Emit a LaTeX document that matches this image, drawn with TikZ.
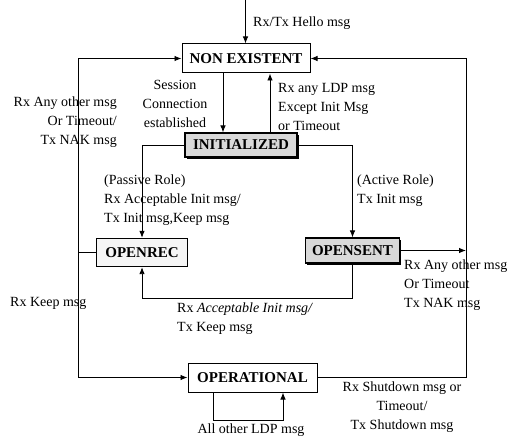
\documentclass[tikz,border=0pt]{standalone}
\usepackage{fontspec}
\setmainfont{Liberation Serif}
\usetikzlibrary{arrows.meta,shadows}
\begin{document}
\begin{tikzpicture}[x=1pt,y=-1pt,
  conn/.style={line width=0.9pt},
  arr/.style={conn,-{Latex[length=7pt,width=5.5pt]}},
  state/.style={draw,line width=1pt,fill=white,inner sep=0pt,
    font=\fontsize{15}{17}\selectfont\bfseries},
  shadestate/.style={state,fill=gray!30,line width=1.1pt,
    drop shadow={shadow xshift=1.6pt,shadow yshift=-1.6pt,fill=black,opacity=1}},
  lbl/.style={inner sep=0pt,font=\fontsize{14}{19}\selectfont}
]
\useasboundingbox (0,0) rectangle (514,441);
% states
\node[state,minimum width=128pt,minimum height=29pt] (NE) at (246,58.5) {NON EXISTENT};
\node[shadestate,minimum width=112pt,minimum height=24pt] (INIT) at (241,145) {INITIALIZED};
\node[state,line width=1.3pt,fill=gray!8,minimum width=91pt,minimum height=28pt] (OR) at (142,252.5) {OPENREC};
\node[shadestate,minimum width=94pt,minimum height=25pt] (OS) at (352.5,250.5) {OPENSENT};
\node[state,minimum width=129pt,minimum height=29pt] (OP) at (252.5,377.5) {OPERATIONAL};
% helper coordinates
\coordinate (top) at (245.5,0);
\coordinate (L) at (78,0);
\coordinate (R) at (466,0);
\coordinate (acc) at (0,298);
% connectors
\draw[arr] (top) -- (NE.north -| top);
\draw[arr] ([xshift=-23pt]NE.south) -- ([xshift=-23pt]NE.south |- INIT.north);
\draw[arr] ([xshift=29pt]INIT.north) -- ([xshift=29pt]INIT.north |- NE.south);
\draw[arr] (INIT.west) -| (OR.north);
\draw[arr] (INIT.east) -| (OS.north);
\draw[arr] (OS.south) -- (OS.south |- acc) -| (OR.south);
\draw[conn] (OR.west) -- (OR.west -| L);
\draw[arr] (OR.west -| L) |- (NE.west);
\draw[arr] (OR.west -| L) |- (OP.west);
\draw[arr] (OS.east) -- (OS.east -| R);
\draw[arr] (OP.east) -| (R |- NE.east) -- (NE.east);
\draw[arr] ([xshift=-39.5pt]OP.south) -- ++(0,28) -| ([xshift=30.5pt]OP.south);
% labels
\node[lbl,anchor=west] (hello) at (253,23) {Rx/Tx Hello msg};
\node[lbl,anchor=east,align=right] (lft) at (117,122) {Rx Any other msg\\Or Timeout/\\Tx NAK msg};
\node[lbl,align=center] (sess) at (175,104) {Session\\Connection\\established};
\node[lbl,anchor=west,align=left] (rxany) at (278,106.5) {Rx any LDP msg\\Except Init Msg\\or Timeout};
\node[lbl,anchor=west,align=left] (pas) at (104,200) {(Passive Role)\\Rx Acceptable Init msg/\\Tx Init msg,Keep msg};
\node[lbl,anchor=west,align=left] (act) at (357,191) {(Active Role)\\Tx Init msg};
\node[lbl,anchor=west,align=left] (osl) at (404,285.5) {Rx Any other msg\\Or Timeout\\Tx NAK msg};
\node[lbl,anchor=west] (keep) at (10,303) {Rx Keep msg};
\node[lbl,anchor=west,align=left] (accl) at (177,319) {Rx \textit{Acceptable Init msg/}\\Tx Keep msg};
\node[lbl,align=center] (shut) at (402,407) {Rx Shutdown msg or\\Timeout/\\Tx Shutdown msg};
\node[lbl] (allo) at (251,430) {All other LDP msg};
\end{tikzpicture}
\end{document}
